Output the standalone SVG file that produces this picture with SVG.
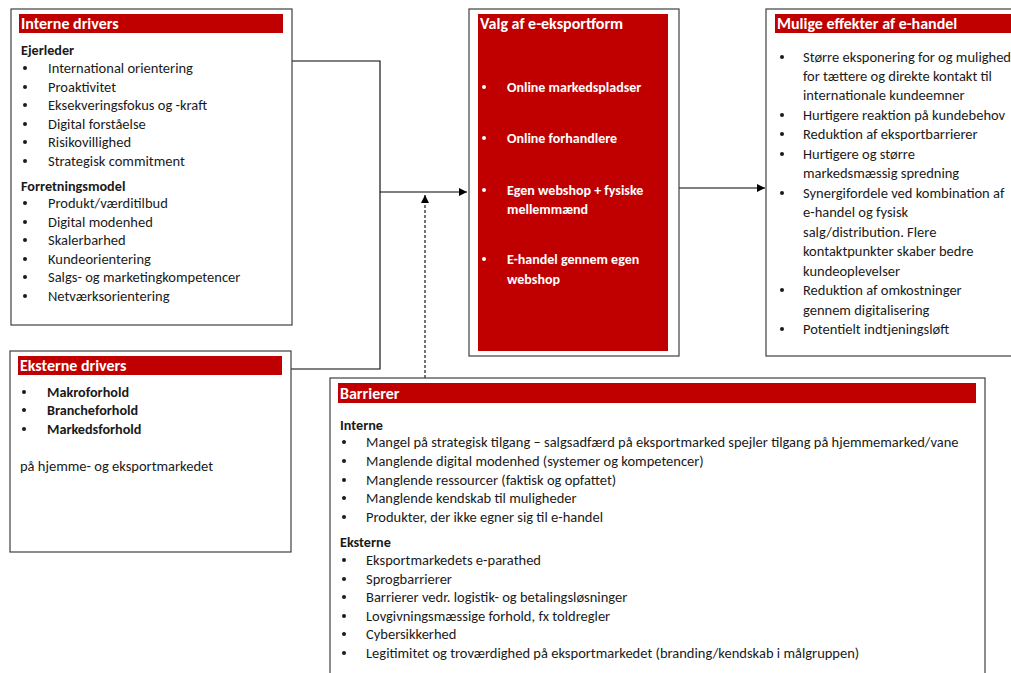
<svg xmlns="http://www.w3.org/2000/svg" width="1011" height="673" viewBox="0 0 1011 673">
  <defs>
    <style>
      .box { fill: #ffffff; stroke: #404040; stroke-width: 1.2; }
      .bar { fill: #c00000; }
      .hd { font-family: Carlito, Lato, "Liberation Sans", sans-serif; font-size: 16px; font-weight: bold; fill: #ffffff; }
      .t { font-family: Carlito, Lato, "Liberation Sans", sans-serif; font-size: 14.5px; fill: #1a1a1a; }
      .b { font-weight: bold; font-size: 14.2px; }
      .w { font-family: Carlito, Lato, "Liberation Sans", sans-serif; font-size: 14px; font-weight: bold; fill: #ffffff; }
      .dot { fill: #1a1a1a; }
      .wdot { fill: #ffffff; }
      .ln { fill: none; stroke: #000000; stroke-width: 1.1; }
      .dash { fill: none; stroke: #000000; stroke-width: 1.1; stroke-dasharray: 3 2; }
    </style>
    <marker id="arr" viewBox="0 0 10 10" refX="10" refY="5" markerWidth="8" markerHeight="8" markerUnits="userSpaceOnUse" orient="auto">
      <path d="M0,0 L10,5 L0,10 z" fill="#000000"/>
    </marker>
  </defs>

  <!-- connectors -->
  <g id="connectors">
    <polyline class="ln" points="292,61 380,61 380,369 291,369"/>
    <line class="ln" x1="380" y1="192" x2="467" y2="192" marker-end="url(#arr)"/>
    <line class="dash" x1="425" y1="378" x2="425" y2="195" marker-end="url(#arr)"/>
    <line class="ln" x1="679" y1="188" x2="765" y2="188" marker-end="url(#arr)"/>
  </g>

  <!-- internal drivers -->
  <g id="interne-drivers">
    <rect class="box" x="11" y="9" width="281" height="316"/>
    <rect class="bar" x="19" y="14" width="264" height="19"/>
    <text class="hd" x="21" y="29">Interne drivers</text>
    <text class="t b" x="21" y="55">Ejerleder</text>
    <g class="dot">
      <circle cx="25" cy="68" r="2"/><circle cx="25" cy="87" r="2"/><circle cx="25" cy="105" r="2"/>
      <circle cx="25" cy="124" r="2"/><circle cx="25" cy="142" r="2"/><circle cx="25" cy="161" r="2"/>
      <circle cx="25" cy="203" r="2"/><circle cx="25" cy="222" r="2"/><circle cx="25" cy="240" r="2"/>
      <circle cx="25" cy="259" r="2"/><circle cx="25" cy="277" r="2"/><circle cx="25" cy="296" r="2"/>
    </g>
    <text class="t" x="48" y="73">International orientering</text>
    <text class="t" x="48" y="92">Proaktivitet</text>
    <text class="t" x="48" y="110">Eksekveringsfokus og -kraft</text>
    <text class="t" x="48" y="129">Digital forståelse</text>
    <text class="t" x="48" y="147">Risikovillighed</text>
    <text class="t" x="48" y="166">Strategisk commitment</text>
    <text class="t b" x="21" y="191">Forretningsmodel</text>
    <text class="t" x="48" y="208">Produkt/værditilbud</text>
    <text class="t" x="48" y="227">Digital modenhed</text>
    <text class="t" x="48" y="245">Skalerbarhed</text>
    <text class="t" x="48" y="264">Kundeorientering</text>
    <text class="t" x="48" y="282">Salgs- og marketingkompetencer</text>
    <text class="t" x="48" y="301">Netværksorientering</text>
  </g>

  <!-- external drivers -->
  <g id="eksterne-drivers">
    <rect class="box" x="10" y="351" width="281" height="201"/>
    <rect class="bar" x="18" y="356" width="264" height="19"/>
    <text class="hd" x="20" y="371">Eksterne drivers</text>
    <g class="dot">
      <circle cx="24" cy="392" r="2"/><circle cx="24" cy="410" r="2"/><circle cx="24" cy="429" r="2"/>
    </g>
    <text class="t b" x="47" y="397">Makroforhold</text>
    <text class="t b" x="47" y="415">Brancheforhold</text>
    <text class="t b" x="47" y="434">Markedsforhold</text>
    <text class="t" x="20" y="471">på hjemme- og eksportmarkedet</text>
  </g>

  <!-- choice of e-export form -->
  <g id="valg-af-e-eksportform">
    <rect class="box" x="469" y="9" width="210" height="347"/>
    <rect class="bar" x="478" y="14" width="190" height="337"/>
    <text class="hd" x="480" y="29">Valg af e-eksportform</text>
    <g class="wdot">
      <circle cx="484" cy="87" r="2"/><circle cx="484" cy="138" r="2"/>
      <circle cx="484" cy="190" r="2"/><circle cx="484" cy="259" r="2"/>
    </g>
    <text class="w" x="507" y="92">Online markedspladser</text>
    <text class="w" x="507" y="143">Online forhandlere</text>
    <text class="w" x="507" y="195">Egen webshop + fysiske</text>
    <text class="w" x="507" y="214">mellemmænd</text>
    <text class="w" x="507" y="264">E-handel gennem egen</text>
    <text class="w" x="507" y="284">webshop</text>
  </g>

  <!-- possible effects -->
  <g id="mulige-effekter">
    <rect class="box" x="766" y="9" width="260" height="347"/>
    <rect class="bar" x="775" y="14" width="240" height="19"/>
    <text class="hd" x="777" y="29">Mulige effekter af e-handel</text>
    <g class="dot">
      <circle cx="782" cy="57" r="2"/><circle cx="782" cy="115" r="2"/><circle cx="782" cy="134" r="2"/>
      <circle cx="782" cy="154" r="2"/><circle cx="782" cy="193" r="2"/><circle cx="782" cy="290" r="2"/>
      <circle cx="782" cy="329" r="2"/>
    </g>
    <text class="t" x="803" y="62">Større eksponering for og mulighed</text>
    <text class="t" x="803" y="81">for tættere og direkte kontakt til</text>
    <text class="t" x="803" y="100">internationale kundeemner</text>
    <text class="t" x="803" y="120">Hurtigere reaktion på kundebehov</text>
    <text class="t" x="803" y="139">Reduktion af eksportbarrierer</text>
    <text class="t" x="803" y="159">Hurtigere og større</text>
    <text class="t" x="803" y="178">markedsmæssig spredning</text>
    <text class="t" x="803" y="198">Synergifordele ved kombination af</text>
    <text class="t" x="803" y="217">e-handel og fysisk</text>
    <text class="t" x="803" y="237">salg/distribution.  Flere</text>
    <text class="t" x="803" y="256">kontaktpunkter skaber bedre</text>
    <text class="t" x="803" y="276">kundeoplevelser</text>
    <text class="t" x="803" y="295">Reduktion af omkostninger</text>
    <text class="t" x="803" y="315">gennem digitalisering</text>
    <text class="t" x="803" y="334">Potentielt indtjeningsløft</text>
  </g>

  <!-- barriers -->
  <g id="barrierer">
    <rect class="box" x="330" y="378" width="655" height="310"/>
    <rect class="bar" x="338" y="383" width="638" height="20"/>
    <text class="hd" x="340" y="399">Barrierer</text>
    <text class="t b" x="340" y="430">Interne</text>
    <g class="dot">
      <circle cx="344" cy="442" r="2"/><circle cx="344" cy="461" r="2"/><circle cx="344" cy="480" r="2"/>
      <circle cx="344" cy="498" r="2"/><circle cx="344" cy="517" r="2"/>
      <circle cx="344" cy="560" r="2"/><circle cx="344" cy="579" r="2"/><circle cx="344" cy="597" r="2"/>
      <circle cx="344" cy="616" r="2"/><circle cx="344" cy="634" r="2"/><circle cx="344" cy="653" r="2"/>
    </g>
    <text class="t" x="366" y="447">Mangel på strategisk tilgang – salgsadfærd på eksportmarked spejler tilgang på hjemmemarked/vane</text>
    <text class="t" x="366" y="466">Manglende digital modenhed (systemer og kompetencer)</text>
    <text class="t" x="366" y="485">Manglende ressourcer (faktisk og opfattet)</text>
    <text class="t" x="366" y="503">Manglende kendskab til muligheder</text>
    <text class="t" x="366" y="522">Produkter, der ikke egner sig til e-handel</text>
    <text class="t b" x="340" y="547">Eksterne</text>
    <text class="t" x="366" y="565">Eksportmarkedets e-parathed</text>
    <text class="t" x="366" y="584">Sprogbarrierer</text>
    <text class="t" x="366" y="602">Barrierer vedr. logistik-  og betalingsløsninger</text>
    <text class="t" x="366" y="621">Lovgivningsmæssige forhold, fx toldregler</text>
    <text class="t" x="366" y="639">Cybersikkerhed</text>
    <text class="t" x="366" y="658">Legitimitet og troværdighed på eksportmarkedet (branding/kendskab i målgruppen)</text>
  </g>
</svg>
